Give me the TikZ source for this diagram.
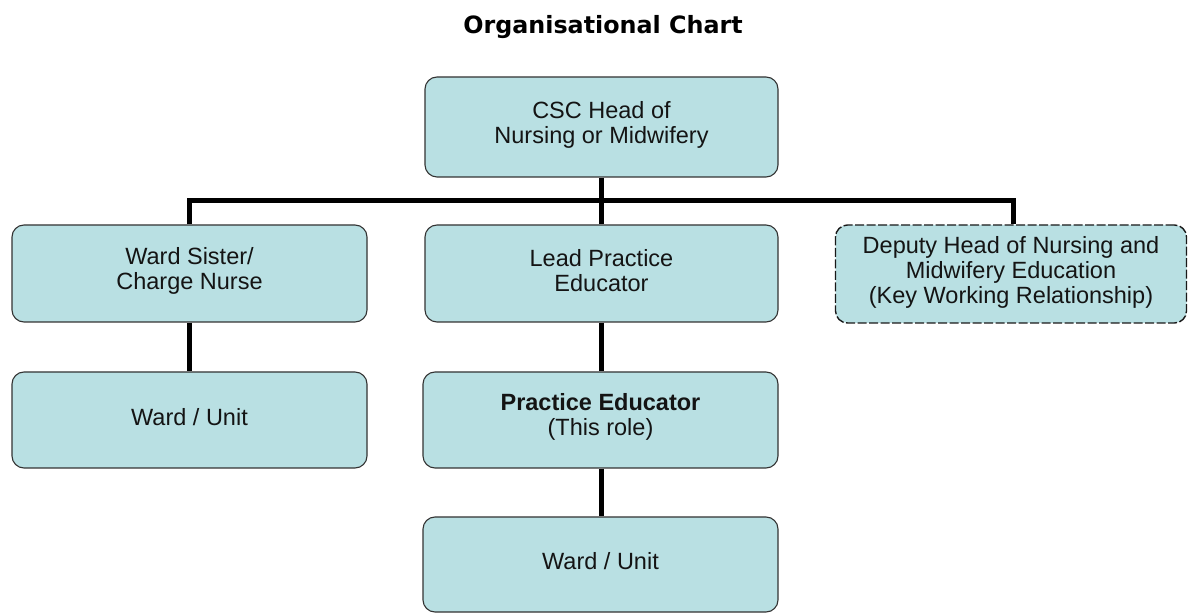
\documentclass[tikz,border=0pt]{standalone}
\usepackage{fontspec}
\setmainfont{Liberation Sans}
\newfontfamily\titlefont{DejaVu Sans}
\begin{document}
\begin{tikzpicture}[x=1pt,y=1pt,
  orgbox/.style={draw=black!80, line width=1.1pt, rounded corners=12pt,
    fill={rgb,255:red,185;green,224;blue,227}, inner sep=0pt},
  dashbox/.style={orgbox, draw=black!90, line width=1.4pt, dash pattern=on 9pt off 2.5pt},
  boxtext/.style={align=center, font=\fontsize{23.5}{25}\selectfont, text=black!92},
  conn/.style={line width=5pt, black}
]
\useasboundingbox (0,0) rectangle (1188,613);

% title
\node[anchor=base, font=\titlefont\bfseries\fontsize{23.8}{26}\selectfont] (title) at (603,579) {Organisational Chart};

% boxes
\node[orgbox, minimum width=353pt, minimum height=100pt] (top) at (601.5,486) {};
\node[orgbox, minimum width=355pt, minimum height=97pt] (ws)  at (189.5,339.5) {};
\node[orgbox, minimum width=353pt, minimum height=97pt] (lpe) at (601.5,339.5) {};
\node[dashbox, minimum width=351pt, minimum height=98pt] (dep) at (1011,339) {};
\node[orgbox, minimum width=355pt, minimum height=96pt] (wu1) at (189.5,193) {};
\node[orgbox, minimum width=355pt, minimum height=96pt] (pe)  at (600.5,193) {};
\node[orgbox, minimum width=355pt, minimum height=95pt] (wu2) at (600.5,48.5) {};

% box texts
\node[boxtext] (topT) at ([yshift=2pt]top.center) {CSC Head of\\Nursing or Midwifery};
\node[boxtext] (wsT)  at ([yshift=3pt]ws.center) {Ward Sister/\\Charge Nurse};
\node[boxtext] (lpeT) at ([yshift=3pt]lpe.center) {Lead Practice\\Educator};
\node[boxtext] (depT) at ([yshift=2pt]dep.center) {Deputy Head of Nursing and\\Midwifery Education\\(Key Working Relationship)};
\node[boxtext] (wu1T) at ([yshift=3pt]wu1.center) {Ward / Unit};
\node[boxtext] (peT)  at ([yshift=3pt]pe.center) {\textbf{Practice Educator}\\(This role)};
\node[boxtext] (wu2T) at ([yshift=3pt]wu2.center) {Ward / Unit};

% connectors
\coordinate (bus) at (601.5,412);
\draw[conn] (top.south) -- (bus);
\draw[conn] (lpe.north) -- (bus);
\draw[conn] (ws.north) |- (bus) -| ([xshift=2.5pt]dep.north);
\draw[conn] (ws.south) -- (wu1.north);
\draw[conn] (lpe.south) -- (lpe.south |- pe.north);
\draw[conn] ([xshift=0.5pt]pe.south) -- ([xshift=0.5pt]wu2.north);
\end{tikzpicture}
\end{document}
